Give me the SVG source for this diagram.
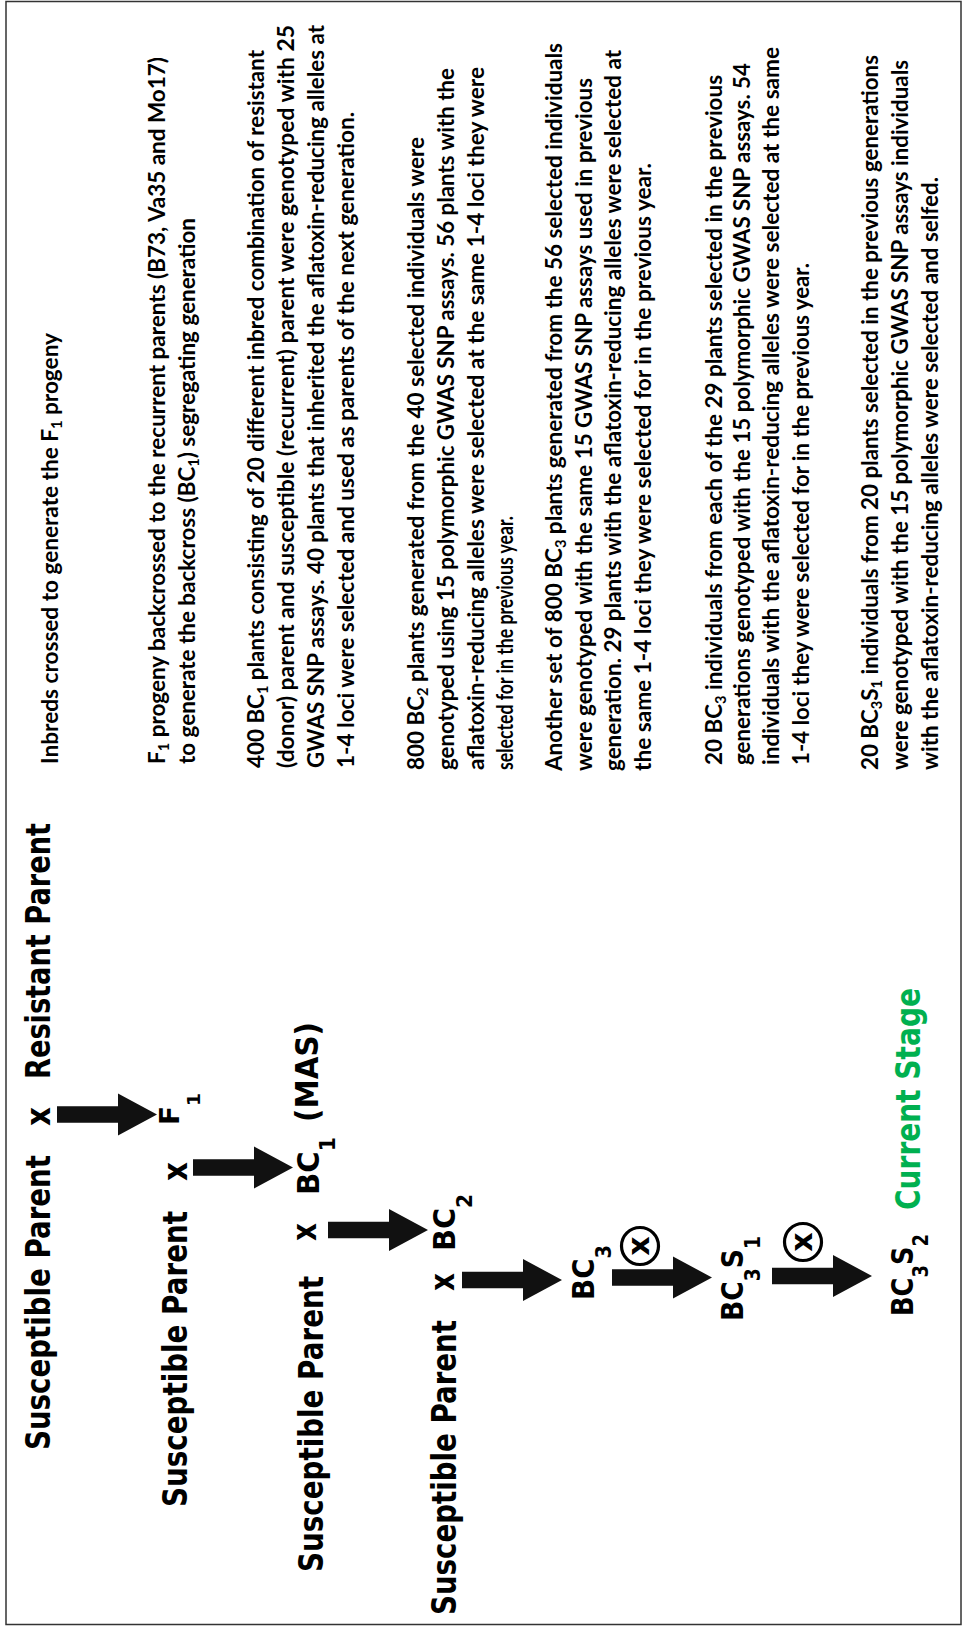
<svg xmlns="http://www.w3.org/2000/svg" xmlns:xlink="http://www.w3.org/1999/xlink" width="964" height="1627" viewBox="0 0 964 1627">
<style>
.lbl{font-family:"DejaVu Sans",Verdana,sans-serif;font-weight:bold;font-size:34px;fill:#000}
.gen{font-family:"DejaVu Sans",Verdana,sans-serif;font-weight:bold;font-size:30px;fill:#000}
.sub{font-size:21px}
.green{fill:#00B050}
.note{font-family:Lato,"Liberation Sans",sans-serif;font-weight:700;font-size:23px;fill:#000}
.ns{font-size:15px}
.arrow{fill:#111}
.ring{fill:none;stroke:#000;stroke-width:3.2}
</style>
<defs>
<path id="arr" d="M0,-8.3 H61 V-21 L100,0 L61,21 V8.3 H0 Z"/>
</defs>
<rect x="6" y="1.5" width="955" height="1623" fill="#fff" stroke="#333" stroke-width="1.5"/>

<g id="susceptible1"><text class="lbl" transform="translate(50,1450) rotate(-90)" textLength="295" lengthAdjust="spacingAndGlyphs">Susceptible Parent</text></g>
<g id="cross1"><text class="lbl" transform="translate(50,1126) rotate(-90)" textLength="19" lengthAdjust="spacingAndGlyphs">x</text></g>
<g id="resistant"><text class="lbl" transform="translate(50,1079) rotate(-90)" textLength="256" lengthAdjust="spacingAndGlyphs">Resistant Parent</text></g>
<g id="f1"><text class="gen" transform="translate(179,1125) rotate(-90)" textLength="32" lengthAdjust="spacingAndGlyphs" style="font-size:27px">F<tspan dy="21" style="font-size:18px">1</tspan></text></g>

<g id="susceptible2"><text class="lbl" transform="translate(187,1507) rotate(-90)" textLength="296" lengthAdjust="spacingAndGlyphs">Susceptible Parent</text></g>
<g id="cross2"><text class="lbl" transform="translate(187,1181) rotate(-90)" textLength="19" lengthAdjust="spacingAndGlyphs">x</text></g>
<g id="bc1"><text class="gen" transform="translate(319,1195) rotate(-90)" textLength="58" lengthAdjust="spacingAndGlyphs">BC<tspan class="sub" dy="16">1</tspan></text></g>
<g id="mas"><text class="lbl" transform="translate(318,1122) rotate(-90)" textLength="100" lengthAdjust="spacingAndGlyphs" style="font-size:32px">(MAS)</text></g>

<g id="susceptible3"><text class="lbl" transform="translate(323,1572) rotate(-90)" textLength="296" lengthAdjust="spacingAndGlyphs">Susceptible Parent</text></g>
<g id="cross3"><text class="lbl" transform="translate(316,1241) rotate(-90)" textLength="18" lengthAdjust="spacingAndGlyphs">x</text></g>
<g id="bc2"><text class="gen" transform="translate(455,1251) rotate(-90)" textLength="57" lengthAdjust="spacingAndGlyphs">BC<tspan class="sub" dy="17">2</tspan></text></g>

<g id="susceptible4"><text class="lbl" transform="translate(456,1615) rotate(-90)" textLength="295" lengthAdjust="spacingAndGlyphs">Susceptible Parent</text></g>
<g id="cross4"><text class="lbl" transform="translate(454,1291) rotate(-90)" textLength="18" lengthAdjust="spacingAndGlyphs">x</text></g>
<g id="bc3"><text class="gen" transform="translate(594,1300) rotate(-90)" textLength="55" lengthAdjust="spacingAndGlyphs">BC<tspan class="sub" dy="17">3</tspan></text></g>

<g id="self1"><circle class="ring" cx="640" cy="1246" r="18.5"/><text class="lbl" transform="translate(648.5,1246) rotate(-90)" text-anchor="middle" style="font-size:30px">x</text></g>
<g id="bc3s1"><text class="gen" transform="translate(743,1321) rotate(-90)" textLength="85" lengthAdjust="spacingAndGlyphs">BC<tspan class="sub" dy="17">3</tspan><tspan dy="-17">S</tspan><tspan class="sub" dy="17">1</tspan></text></g>

<g id="self2"><circle class="ring" cx="803" cy="1242" r="18.5"/><text class="lbl" transform="translate(811.5,1242) rotate(-90)" text-anchor="middle" style="font-size:30px">x</text></g>
<g id="bc3s2"><text class="gen" transform="translate(913,1316) rotate(-90)" textLength="82" lengthAdjust="spacingAndGlyphs">BC<tspan class="sub" dy="15">3</tspan><tspan dy="-15">S</tspan><tspan class="sub" dy="15">2</tspan></text></g>
<g id="current-stage"><text class="lbl green" transform="translate(920,1210) rotate(-90)" textLength="222" lengthAdjust="spacingAndGlyphs">Current Stage</text></g>

<g id="connectors" class="arrow">
<use xlink:href="#arr" x="57" y="1114.5"/>
<use xlink:href="#arr" x="193" y="1167.5"/>
<use xlink:href="#arr" x="328" y="1230"/>
<use xlink:href="#arr" x="462" y="1280"/>
<use xlink:href="#arr" x="612" y="1277.5"/>
<use xlink:href="#arr" x="772" y="1276"/>
</g>

<g id="notes" class="note">
<g id="note-f1">
<text transform="translate(58,764) rotate(-90)" textLength="431" lengthAdjust="spacingAndGlyphs">Inbreds crossed to generate the F<tspan class="ns" dy="4">1</tspan><tspan dy="-4"> progeny</tspan></text>
</g>
<g id="note-bc1">
<text transform="translate(165,764) rotate(-90)" textLength="707" lengthAdjust="spacingAndGlyphs">F<tspan class="ns" dy="4">1</tspan><tspan dy="-4"> progeny backcrossed to the recurrent parents (B73, Va35 and Mo17)</tspan></text>
<text transform="translate(195,764) rotate(-90)" textLength="546" lengthAdjust="spacingAndGlyphs">to generate the backcross (BC<tspan class="ns" dy="4">1</tspan><tspan dy="-4">) segregating generation</tspan></text>
</g>
<g id="note-bc1-mas">
<text transform="translate(264,768) rotate(-90)" textLength="718" lengthAdjust="spacingAndGlyphs">400 BC<tspan class="ns" dy="4">1</tspan><tspan dy="-4"> plants consisting of 20 different inbred combination of resistant</tspan></text>
<text transform="translate(294,768) rotate(-90)" textLength="743" lengthAdjust="spacingAndGlyphs">(donor) parent and susceptible (recurrent) parent were genotyped with 25</text>
<text transform="translate(324,768) rotate(-90)" textLength="743" lengthAdjust="spacingAndGlyphs">GWAS SNP assays. 40 plants that inherited the aflatoxin-reducing alleles at</text>
<text transform="translate(354,768) rotate(-90)" textLength="656" lengthAdjust="spacingAndGlyphs">1-4 loci were selected and used as parents of the next generation.</text>
</g>
<g id="note-bc2">
<text transform="translate(424,770) rotate(-90)" textLength="633" lengthAdjust="spacingAndGlyphs">800 BC<tspan class="ns" dy="4">2</tspan><tspan dy="-4"> plants generated from the 40 selected individuals were</tspan></text>
<text transform="translate(454,770) rotate(-90)" textLength="702" lengthAdjust="spacingAndGlyphs">genotyped using 15 polymorphic GWAS SNP assays. 56 plants with the</text>
<text transform="translate(484,770) rotate(-90)" textLength="703" lengthAdjust="spacingAndGlyphs">aflatoxin-reducing alleles were selected at the same 1-4 loci they were</text>
<text transform="translate(513,770) rotate(-90)" textLength="254" lengthAdjust="spacingAndGlyphs">selected for in the previous year.</text>
</g>
<g id="note-bc3">
<text transform="translate(562,771) rotate(-90)" textLength="728" lengthAdjust="spacingAndGlyphs">Another set of 800 BC<tspan class="ns" dy="4">3</tspan><tspan dy="-4"> plants generated from the 56 selected individuals</tspan></text>
<text transform="translate(592,771) rotate(-90)" textLength="693" lengthAdjust="spacingAndGlyphs">were genotyped with the same 15 GWAS SNP assays used in previous</text>
<text transform="translate(621,771) rotate(-90)" textLength="721" lengthAdjust="spacingAndGlyphs">generation. 29 plants with the aflatoxin-reducing alleles were selected at</text>
<text transform="translate(651,771) rotate(-90)" textLength="608" lengthAdjust="spacingAndGlyphs">the same 1-4 loci they were selected for in the previous year.</text>
</g>
<g id="note-bc3s1">
<text transform="translate(722,765) rotate(-90)" textLength="690" lengthAdjust="spacingAndGlyphs">20 BC<tspan class="ns" dy="4">3</tspan><tspan dy="-4"> individuals from each of the 29 plants selected in the previous</tspan></text>
<text transform="translate(750,765) rotate(-90)" textLength="702" lengthAdjust="spacingAndGlyphs">generations genotyped with the 15 polymorphic GWAS SNP assays. 54</text>
<text transform="translate(779,765) rotate(-90)" textLength="718" lengthAdjust="spacingAndGlyphs">individuals with the aflatoxin-reducing alleles were selected at the same</text>
<text transform="translate(809,765) rotate(-90)" textLength="502" lengthAdjust="spacingAndGlyphs">1-4 loci they were selected for in the previous year.</text>
</g>
<g id="note-bc3s2">
<text transform="translate(878,770) rotate(-90)" textLength="715" lengthAdjust="spacingAndGlyphs">20 BC<tspan class="ns" dy="4">3</tspan><tspan dy="-4">S</tspan><tspan class="ns" dy="4">1</tspan><tspan dy="-4"> individuals from 20 plants selected in the previous generations</tspan></text>
<text transform="translate(908,770) rotate(-90)" textLength="710" lengthAdjust="spacingAndGlyphs">were genotyped with the 15 polymorphic GWAS SNP assays individuals</text>
<text transform="translate(938,770) rotate(-90)" textLength="593" lengthAdjust="spacingAndGlyphs">with the aflatoxin-reducing alleles were selected and selfed.</text>
</g>
</g>
</svg>
